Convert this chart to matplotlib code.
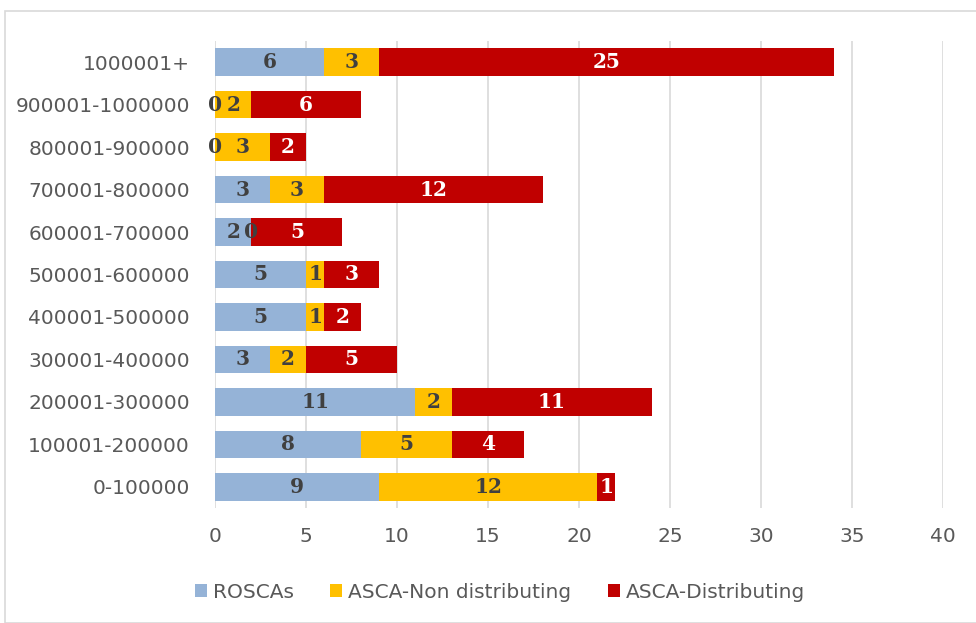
import matplotlib
matplotlib.use("Agg")
import matplotlib.pyplot as plt
from matplotlib.patches import Rectangle
import numpy as np

categories = ["0-100000", "100001-200000", "200001-300000", "300001-400000",
              "400001-500000", "500001-600000", "600001-700000", "700001-800000",
              "800001-900000", "900001-1000000", "1000001+"]
roscas = [9, 8, 11, 3, 5, 5, 2, 3, 0, 0, 6]
asca_non = [12, 5, 2, 2, 1, 1, 0, 3, 3, 2, 3]
asca_dist = [1, 4, 11, 5, 2, 3, 5, 12, 2, 6, 25]
series_names = ["ROSCAs", "ASCA-Non distributing", "ASCA-Distributing"]
xticks = [0, 5, 10, 15, 20, 25, 30, 35, 40]

colors = ["#95B3D7", "#FFC000", "#C00000"]
label_colors = ["#404040", "#404040", "#FFFFFF"]

fig = plt.figure(figsize=(9.76, 6.23), dpi=100)
fig.patches.append(Rectangle((5/976, 0.0), 1.0, (623-11)/623, transform=fig.transFigure,
                             fill=False, edgecolor="#D9D9D9", linewidth=1.2))
ax = fig.add_axes([215/976, (623-508)/623, (943-215)/976, (508-41)/623])

y = np.arange(len(categories))
left = np.zeros(len(categories))
serif = ["DejaVu Serif"]
for vals, c, lc, name in zip([roscas, asca_non, asca_dist], colors, label_colors, series_names):
    vals = np.array(vals, dtype=float)
    ax.barh(y, vals, left=left, height=0.65, color=c, label=name, zorder=3)
    for yi, (l, v) in enumerate(zip(left, vals)):
        ax.text(l + v / 2, yi, f"{int(v)}", ha="center", va="center",
                color=lc, fontsize=14.5, fontweight="bold", family=serif, zorder=4)
    left += vals

ax.set_xlim(0, 40)
ax.set_ylim(-0.5, len(categories) - 0.5)
ax.set_xticks(xticks)
ax.set_xticklabels([str(t) for t in xticks])
ax.set_yticks(y)
ax.set_yticklabels(categories)
ax.grid(axis="x", color="#D9D9D9", linewidth=1.2, zorder=0)
for s in ax.spines.values():
    s.set_visible(False)
ax.tick_params(axis="both", length=0, labelsize=14.5, labelcolor="#595959")
ax.tick_params(axis="x", pad=14)
ax.tick_params(axis="y", pad=18)

handles, labels = ax.get_legend_handles_labels()
fig.legend(handles, labels, loc="center", bbox_to_anchor=(500/976, (623-592)/623),
           ncol=3, frameon=False, fontsize=14.5, handlelength=0.6, handleheight=0.6,
           columnspacing=1.8, handletextpad=0.3, labelcolor="#595959")

fig.savefig("out.png", dpi=100)
